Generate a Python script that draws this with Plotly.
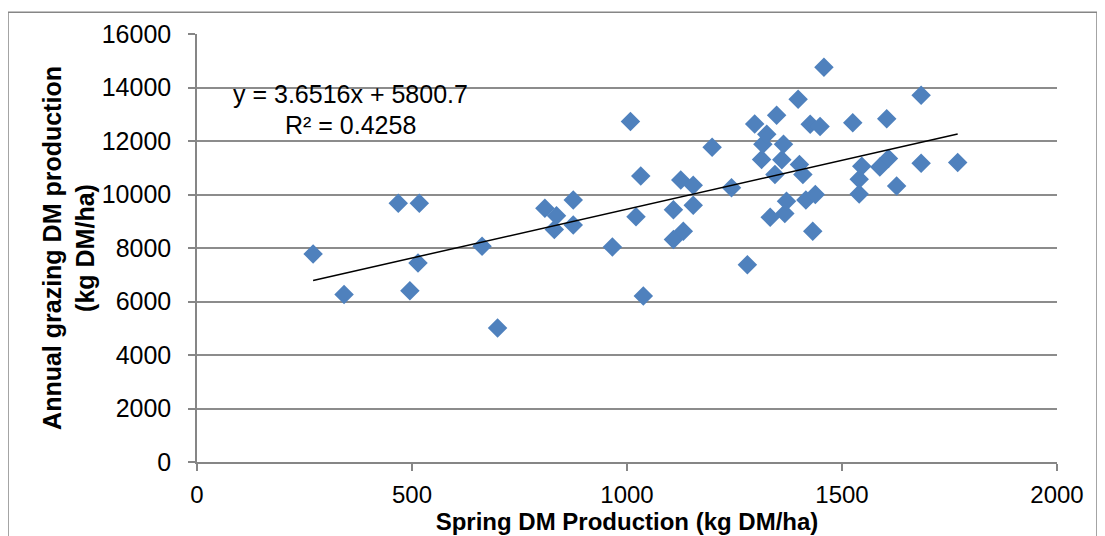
import plotly.graph_objects as go

spring_dm = [270, 342, 468, 495, 514, 517, 663, 699, 809, 836, 831, 875, 875, 966,
             1008, 1021, 1032, 1038, 1108, 1108, 1125, 1131, 1154, 1154, 1198, 1243,
             1280, 1297, 1313, 1316, 1325, 1333, 1344, 1348, 1360, 1364, 1367, 1371,
             1398, 1401, 1409, 1416, 1426, 1432, 1438, 1449, 1458, 1525, 1540, 1540,
             1546, 1588, 1604, 1608, 1627, 1684, 1684, 1769]
annual_dm = [7780, 6260, 9670, 6400, 7440, 9670, 8070, 5010, 9490, 9210, 8690, 9790, 8860, 8040,
             12730, 9170, 10690, 6210, 9430, 8320, 10540, 8630, 10350, 9600, 11770, 10250,
             7370, 12640, 11310, 11880, 12250, 9150, 10750, 12960, 11300, 11880, 9290, 9750,
             13560, 11120, 10750, 9790, 12630, 8630, 10000, 12540, 14760, 12680, 10570, 10020,
             11060, 11030, 12830, 11350, 10320, 13710, 11170, 11200]

slope = 3.6516
intercept = 5800.7
eq_line1 = "y = 3.6516x + 5800.7"
eq_line2 = "R² = 0.4258"

x_ticks = [0, 500, 1000, 1500, 2000]
y_ticks = [0, 2000, 4000, 6000, 8000, 10000, 12000, 14000, 16000]

trend_x = [min(spring_dm), max(spring_dm)]
trend_y = [slope * v + intercept for v in trend_x]

FONT = "Liberation Sans, Arial, sans-serif"
GRAY = "#868686"

fig = go.Figure()
fig.add_trace(go.Scatter(
    x=spring_dm, y=annual_dm, mode="markers",
    marker=dict(symbol="diamond", size=15, color="#4F81BD", line=dict(width=0)),
    showlegend=False, hoverinfo="x+y"))
fig.add_trace(go.Scatter(
    x=trend_x, y=trend_y, mode="lines",
    line=dict(color="black", width=1.5), showlegend=False, hoverinfo="skip"))

fig.add_annotation(x=356, y=13740, xref="x", yref="y", text=eq_line1,
                   showarrow=False, font=dict(family=FONT, size=25, color="black"))
fig.add_annotation(x=358, y=12600, xref="x", yref="y", text=eq_line2,
                   showarrow=False, font=dict(family=FONT, size=25, color="black"))

fig.update_layout(
    width=1105, height=536,
    margin=dict(l=189, r=56, t=22, b=82),
    paper_bgcolor="white", plot_bgcolor="white",
    font=dict(family=FONT, color="black"),
    xaxis=dict(range=[0, 2000], tickvals=x_ticks, tickformat="d",
               ticks="outside", ticklen=7,
               tickcolor=GRAY, tickwidth=1.5, ticklabelstandoff=3,
               showline=True, linecolor=GRAY, linewidth=1.5,
               showgrid=False, zeroline=False,
               tickfont=dict(family=FONT, size=24),
               title=dict(text="<b>Spring DM Production (kg DM/ha)</b>",
                          font=dict(family=FONT, size=24), standoff=0)),
    yaxis=dict(range=[0, 16000], tickvals=y_ticks, tickformat="d",
               ticks="outside", ticklen=7,
               tickcolor=GRAY, tickwidth=1.5, ticklabelstandoff=12,
               showline=True, linecolor=GRAY, linewidth=1.5,
               showgrid=True, gridcolor="#8c8c8c", gridwidth=2, zeroline=False,
               tickfont=dict(family=FONT, size=25),
               title=dict(text="<b>Annual grazing DM production<br>(kg DM/ha)</b>",
                          font=dict(family=FONT, size=25), standoff=0)),
)

fig.add_shape(type="rect", xref="paper", yref="paper",
              x0=-189/860, x1=900/860, y0=-90/432, y1=1 + 22/432,
              line=dict(color=GRAY, width=1.5), fillcolor="rgba(0,0,0,0)")

fig.write_html("out.html")
